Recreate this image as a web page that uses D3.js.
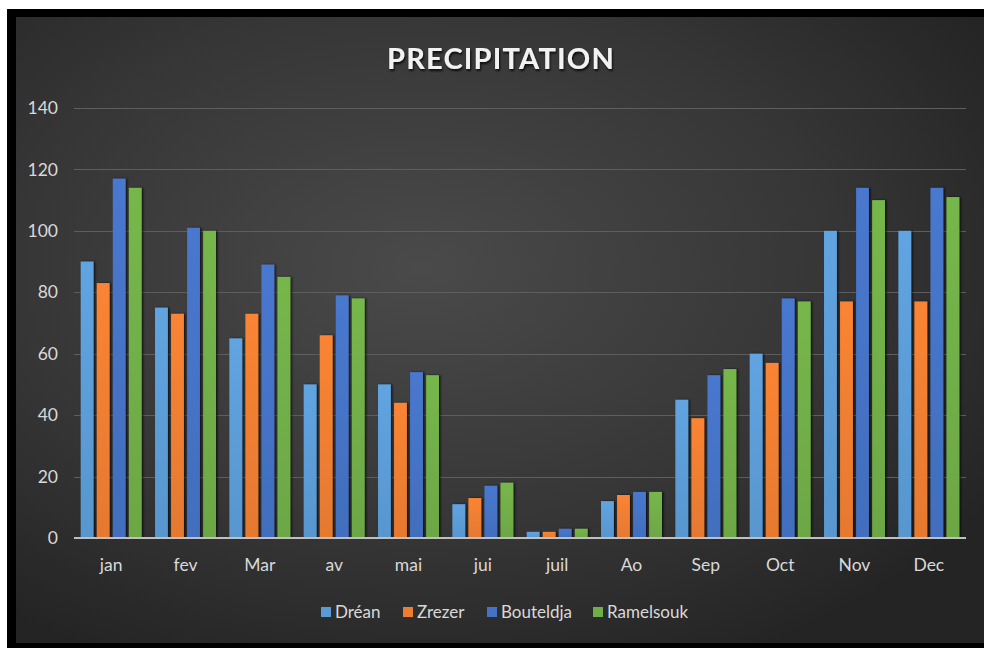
<!DOCTYPE html>
<html><head><meta charset="utf-8">
<script src="https://cdn.jsdelivr.net/npm/d3@7"></script>
<style>html,body{margin:0;padding:0;background:#fff;overflow:hidden;}svg{display:block;}</style>
</head><body>
<script>
const categories = ["jan","fev","Mar","av","mai","jui","juil","Ao","Sep","Oct","Nov","Dec"];
const seriesNames = ["Dréan","Zrezer","Bouteldja","Ramelsouk"];
const dreanValues     = [90, 75, 65, 50, 50, 11, 2, 12, 45, 60, 100, 100];
const zrezerValues    = [83, 73, 73, 66, 44, 13, 2, 14, 39, 57, 77, 77];
const bouteldjaValues = [117, 101, 89, 79, 54, 17, 3, 15, 53, 78, 114, 114];
const ramelsoukValues = [114, 100, 85, 78, 53, 18, 3, 15, 55, 77, 110, 111];
const yTicks = [0, 20, 40, 60, 80, 100, 120, 140];
const colors = ["#5B9BD5", "#ED7D31", "#4472C4", "#70AD47"];
const allSeries = [dreanValues, zrezerValues, bouteldjaValues, ramelsoukValues];

const W = 984, H = 648;
const svg = d3.select("body").append("svg").attr("width", W).attr("height", H);
const defs = svg.append("defs");
const bg = defs.append("radialGradient").attr("id","bg")
  .attr("cx","42%").attr("cy","40%").attr("r","70%");
bg.append("stop").attr("offset","0%").attr("stop-color","#4a4a4a");
bg.append("stop").attr("offset","60%").attr("stop-color","#363636");
bg.append("stop").attr("offset","100%").attr("stop-color","#242424");
colors.forEach((c,i)=>{
  const g = defs.append("linearGradient").attr("id","bar"+i).attr("x1",0).attr("x2",0).attr("y1",0).attr("y2",1);
  g.append("stop").attr("offset","0%").attr("stop-color", d3.color(c).brighter(0.15));
  g.append("stop").attr("offset","100%").attr("stop-color", d3.color(c).darker(0.1));
});
const f = defs.append("filter").attr("id","sh").attr("x","-30%").attr("y","-10%").attr("width","160%").attr("height","120%");
f.append("feDropShadow").attr("dx",1.5).attr("dy",0).attr("stdDeviation",1).attr("flood-color","#000").attr("flood-opacity",0.7);
const tf = defs.append("filter").attr("id","tsh").attr("x","-10%").attr("y","-20%").attr("width","120%").attr("height","150%");
tf.append("feDropShadow").attr("dx",1).attr("dy",2).attr("stdDeviation",1.2).attr("flood-color","#000").attr("flood-opacity",0.8);

// frame
svg.append("rect").attr("x",7).attr("y",9).attr("width",W-7).attr("height",H-9).attr("fill","#000");
svg.append("rect").attr("x",16).attr("y",17).attr("width",W-16).attr("height",643-17).attr("fill","url(#bg)");

const x0 = d3.scaleBand().domain(categories).range([74, 966]).paddingInner(0.18).paddingOuter(0.09);
const x1 = d3.scaleBand().domain(d3.range(4)).range([0, x0.bandwidth()]).paddingInner(0.2);
const y = d3.scaleLinear().domain([0,140]).range([538,108]);

// gridlines
svg.append("g").selectAll("line").data(yTicks.filter(t=>t>0)).join("line")
  .attr("x1",74).attr("x2",966).attr("y1",d=>Math.round(y(d))+0.5).attr("y2",d=>Math.round(y(d))+0.5)
  .attr("stroke","#5e5e5e").attr("stroke-width",1);

// y axis labels
const yAxis = d3.axisLeft(y).tickValues(yTicks).tickSize(0).tickPadding(0);
const ya = svg.append("g").attr("transform","translate(58,0)").call(yAxis);
ya.select(".domain").remove();
ya.selectAll("text").attr("fill","#d9d9d9").attr("font-family","Lato, 'Open Sans', sans-serif").attr("font-size",17.5).attr("text-anchor","end");

// bars
const groups = svg.append("g").selectAll("g").data(categories).join("g")
  .attr("transform", d=>`translate(${x0(d)},0)`);
groups.selectAll("rect").data((c,ci)=>allSeries.map((s,si)=>({si, v:s[ci]}))).join("rect")
  .attr("x", d=>x1(d.si)).attr("width", x1.bandwidth())
  .attr("y", d=>y(d.v)).attr("height", d=>y(0)-y(d.v))
  .attr("fill", d=>`url(#bar${d.si})`).attr("filter","url(#sh)");

// x axis
const xAxis = d3.axisBottom(x0).tickSize(0).tickPadding(21);
const xa = svg.append("g").attr("transform","translate(0,538)").call(xAxis);
xa.select(".domain").attr("stroke","#bfbfbf").attr("stroke-width",2).attr("d","M74,0H966");
xa.selectAll("text").attr("fill","#d9d9d9").attr("font-family","Lato, 'Open Sans', sans-serif").attr("font-size",17.5);

// title
svg.append("text").attr("x",501).attr("y",69).attr("text-anchor","middle")
  .attr("font-family","Lato, 'Open Sans', sans-serif").attr("font-weight","bold").attr("font-size",29)
  .attr("letter-spacing",1.2).attr("fill","#f2f2f2").attr("filter","url(#tsh)").text("PRECIPITATION");

// legend
const legendX = [321, 403, 487, 593];
const lg = svg.append("g").selectAll("g").data(seriesNames).join("g")
  .attr("transform",(d,i)=>`translate(${legendX[i]},612)`);
lg.append("rect").attr("x",0).attr("y",-5).attr("width",10).attr("height",10).attr("fill",(d,i)=>colors[i]);
lg.append("text").attr("x",14).attr("y",6).attr("fill","#d9d9d9")
  .attr("font-family","Lato, 'Open Sans', sans-serif").attr("font-size",17).text(d=>d);
</script>
</body></html>
